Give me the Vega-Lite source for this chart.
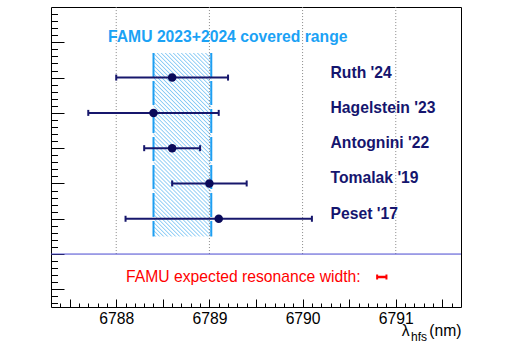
{
  "$schema": "https://vega.github.io/schema/vega-lite/v6.json",
  "width": 410,
  "height": 300,
  "autosize": {"type": "none"},
  "padding": {"left": 51, "top": 7, "right": 51, "bottom": 39},
  "background": "white",
  "config": {"view": {"stroke": "#000", "strokeWidth": 1}, "font": "Liberation Sans"},
  "datasets": {
    "meas": [
      {"name": "Ruth '24", "row": 6.5, "value": 6788.6, "lo": 6788.0, "hi": 6789.2},
      {"name": "Hagelstein '23", "row": 5.5, "value": 6788.4, "lo": 6787.7, "hi": 6789.1},
      {"name": "Antognini '22", "row": 4.5, "value": 6788.6, "lo": 6788.3, "hi": 6788.9},
      {"name": "Tomalak '19", "row": 3.5, "value": 6789.0, "lo": 6788.6, "hi": 6789.4},
      {"name": "Peset '17", "row": 2.5, "value": 6789.1, "lo": 6788.1, "hi": 6790.1}
    ],
    "band": [{"from": 6788.4, "to": 6789.02, "bottom": 2.0, "top": 7.2}],
    "edges": [{"edge": 6788.4}, {"edge": 6789.02}],
    "grid": [{"g": 6788}, {"g": 6789}, {"g": 6790}, {"g": 6791}],
    "width": [{"lo": 6790.8, "hi": 6790.9, "row": 0.85}]
  },
  "resolve": {"axis": {"x": "independent", "y": "independent"}},
  "layer": [
    {
      "data": {"name": "band"},
      "mark": {"type": "rect", "strokeWidth": 0, "fill": {"gradient": "linear", "x1": 0, "y1": 1, "x2": 0.3768, "y2": -0.1963, "stops": [
        {"offset":0.0033,"color":"#fff"},{"offset":0.0083,"color":"#86c9f5"},{"offset":0.0133,"color":"#fff"},
        {"offset":0.0200,"color":"#fff"},{"offset":0.0250,"color":"#86c9f5"},{"offset":0.0300,"color":"#fff"},
        {"offset":0.0367,"color":"#fff"},{"offset":0.0417,"color":"#86c9f5"},{"offset":0.0467,"color":"#fff"},
        {"offset":0.0533,"color":"#fff"},{"offset":0.0583,"color":"#86c9f5"},{"offset":0.0633,"color":"#fff"},
        {"offset":0.0700,"color":"#fff"},{"offset":0.0750,"color":"#86c9f5"},{"offset":0.0800,"color":"#fff"},
        {"offset":0.0867,"color":"#fff"},{"offset":0.0917,"color":"#86c9f5"},{"offset":0.0967,"color":"#fff"},
        {"offset":0.1033,"color":"#fff"},{"offset":0.1083,"color":"#86c9f5"},{"offset":0.1133,"color":"#fff"},
        {"offset":0.1200,"color":"#fff"},{"offset":0.1250,"color":"#86c9f5"},{"offset":0.1300,"color":"#fff"},
        {"offset":0.1367,"color":"#fff"},{"offset":0.1417,"color":"#86c9f5"},{"offset":0.1467,"color":"#fff"},
        {"offset":0.1533,"color":"#fff"},{"offset":0.1583,"color":"#86c9f5"},{"offset":0.1633,"color":"#fff"},
        {"offset":0.1700,"color":"#fff"},{"offset":0.1750,"color":"#86c9f5"},{"offset":0.1800,"color":"#fff"},
        {"offset":0.1867,"color":"#fff"},{"offset":0.1917,"color":"#86c9f5"},{"offset":0.1967,"color":"#fff"},
        {"offset":0.2033,"color":"#fff"},{"offset":0.2083,"color":"#86c9f5"},{"offset":0.2133,"color":"#fff"},
        {"offset":0.2200,"color":"#fff"},{"offset":0.2250,"color":"#86c9f5"},{"offset":0.2300,"color":"#fff"},
        {"offset":0.2367,"color":"#fff"},{"offset":0.2417,"color":"#86c9f5"},{"offset":0.2467,"color":"#fff"},
        {"offset":0.2533,"color":"#fff"},{"offset":0.2583,"color":"#86c9f5"},{"offset":0.2633,"color":"#fff"},
        {"offset":0.2700,"color":"#fff"},{"offset":0.2750,"color":"#86c9f5"},{"offset":0.2800,"color":"#fff"},
        {"offset":0.2867,"color":"#fff"},{"offset":0.2917,"color":"#86c9f5"},{"offset":0.2967,"color":"#fff"},
        {"offset":0.3033,"color":"#fff"},{"offset":0.3083,"color":"#86c9f5"},{"offset":0.3133,"color":"#fff"},
        {"offset":0.3200,"color":"#fff"},{"offset":0.3250,"color":"#86c9f5"},{"offset":0.3300,"color":"#fff"},
        {"offset":0.3367,"color":"#fff"},{"offset":0.3417,"color":"#86c9f5"},{"offset":0.3467,"color":"#fff"},
        {"offset":0.3533,"color":"#fff"},{"offset":0.3583,"color":"#86c9f5"},{"offset":0.3633,"color":"#fff"},
        {"offset":0.3700,"color":"#fff"},{"offset":0.3750,"color":"#86c9f5"},{"offset":0.3800,"color":"#fff"},
        {"offset":0.3867,"color":"#fff"},{"offset":0.3917,"color":"#86c9f5"},{"offset":0.3967,"color":"#fff"},
        {"offset":0.4033,"color":"#fff"},{"offset":0.4083,"color":"#86c9f5"},{"offset":0.4133,"color":"#fff"},
        {"offset":0.4200,"color":"#fff"},{"offset":0.4250,"color":"#86c9f5"},{"offset":0.4300,"color":"#fff"},
        {"offset":0.4367,"color":"#fff"},{"offset":0.4417,"color":"#86c9f5"},{"offset":0.4467,"color":"#fff"},
        {"offset":0.4533,"color":"#fff"},{"offset":0.4583,"color":"#86c9f5"},{"offset":0.4633,"color":"#fff"},
        {"offset":0.4700,"color":"#fff"},{"offset":0.4750,"color":"#86c9f5"},{"offset":0.4800,"color":"#fff"},
        {"offset":0.4867,"color":"#fff"},{"offset":0.4917,"color":"#86c9f5"},{"offset":0.4967,"color":"#fff"},
        {"offset":0.5033,"color":"#fff"},{"offset":0.5083,"color":"#86c9f5"},{"offset":0.5133,"color":"#fff"},
        {"offset":0.5200,"color":"#fff"},{"offset":0.5250,"color":"#86c9f5"},{"offset":0.5300,"color":"#fff"},
        {"offset":0.5367,"color":"#fff"},{"offset":0.5417,"color":"#86c9f5"},{"offset":0.5467,"color":"#fff"},
        {"offset":0.5533,"color":"#fff"},{"offset":0.5583,"color":"#86c9f5"},{"offset":0.5633,"color":"#fff"},
        {"offset":0.5700,"color":"#fff"},{"offset":0.5750,"color":"#86c9f5"},{"offset":0.5800,"color":"#fff"},
        {"offset":0.5867,"color":"#fff"},{"offset":0.5917,"color":"#86c9f5"},{"offset":0.5967,"color":"#fff"},
        {"offset":0.6033,"color":"#fff"},{"offset":0.6083,"color":"#86c9f5"},{"offset":0.6133,"color":"#fff"},
        {"offset":0.6200,"color":"#fff"},{"offset":0.6250,"color":"#86c9f5"},{"offset":0.6300,"color":"#fff"},
        {"offset":0.6367,"color":"#fff"},{"offset":0.6417,"color":"#86c9f5"},{"offset":0.6467,"color":"#fff"},
        {"offset":0.6533,"color":"#fff"},{"offset":0.6583,"color":"#86c9f5"},{"offset":0.6633,"color":"#fff"},
        {"offset":0.6700,"color":"#fff"},{"offset":0.6750,"color":"#86c9f5"},{"offset":0.6800,"color":"#fff"},
        {"offset":0.6867,"color":"#fff"},{"offset":0.6917,"color":"#86c9f5"},{"offset":0.6967,"color":"#fff"},
        {"offset":0.7033,"color":"#fff"},{"offset":0.7083,"color":"#86c9f5"},{"offset":0.7133,"color":"#fff"},
        {"offset":0.7200,"color":"#fff"},{"offset":0.7250,"color":"#86c9f5"},{"offset":0.7300,"color":"#fff"},
        {"offset":0.7367,"color":"#fff"},{"offset":0.7417,"color":"#86c9f5"},{"offset":0.7467,"color":"#fff"},
        {"offset":0.7533,"color":"#fff"},{"offset":0.7583,"color":"#86c9f5"},{"offset":0.7633,"color":"#fff"},
        {"offset":0.7700,"color":"#fff"},{"offset":0.7750,"color":"#86c9f5"},{"offset":0.7800,"color":"#fff"},
        {"offset":0.7867,"color":"#fff"},{"offset":0.7917,"color":"#86c9f5"},{"offset":0.7967,"color":"#fff"},
        {"offset":0.8033,"color":"#fff"},{"offset":0.8083,"color":"#86c9f5"},{"offset":0.8133,"color":"#fff"},
        {"offset":0.8200,"color":"#fff"},{"offset":0.8250,"color":"#86c9f5"},{"offset":0.8300,"color":"#fff"},
        {"offset":0.8367,"color":"#fff"},{"offset":0.8417,"color":"#86c9f5"},{"offset":0.8467,"color":"#fff"},
        {"offset":0.8533,"color":"#fff"},{"offset":0.8583,"color":"#86c9f5"},{"offset":0.8633,"color":"#fff"},
        {"offset":0.8700,"color":"#fff"},{"offset":0.8750,"color":"#86c9f5"},{"offset":0.8800,"color":"#fff"},
        {"offset":0.8867,"color":"#fff"},{"offset":0.8917,"color":"#86c9f5"},{"offset":0.8967,"color":"#fff"},
        {"offset":0.9033,"color":"#fff"},{"offset":0.9083,"color":"#86c9f5"},{"offset":0.9133,"color":"#fff"},
        {"offset":0.9200,"color":"#fff"},{"offset":0.9250,"color":"#86c9f5"},{"offset":0.9300,"color":"#fff"},
        {"offset":0.9367,"color":"#fff"},{"offset":0.9417,"color":"#86c9f5"},{"offset":0.9467,"color":"#fff"},
        {"offset":0.9533,"color":"#fff"},{"offset":0.9583,"color":"#86c9f5"},{"offset":0.9633,"color":"#fff"},
        {"offset":0.9700,"color":"#fff"},{"offset":0.9750,"color":"#86c9f5"},{"offset":0.9800,"color":"#fff"},
        {"offset":0.9867,"color":"#fff"},{"offset":0.9917,"color":"#86c9f5"},{"offset":0.9967,"color":"#fff"}
      ]}},
      "encoding": {
        "x": {"field": "from", "type": "quantitative", "scale": {"domain": [6787.3, 6791.7], "nice": false, "zero": false},
          "axis": {"orient": "bottom", "values": [6787.4,6787.5,6787.6,6787.7,6787.8,6787.9,6788,6788.1,6788.2,6788.3,6788.4,6788.5,6788.6,6788.7,6788.8,6788.9,6789,6789.1,6789.2,6789.3,6789.4,6789.5,6789.6,6789.7,6789.8,6789.9,6790,6790.1,6790.2,6790.3,6790.4,6790.5,6790.6,6790.7,6790.8,6790.9,6791,6791.1,6791.2,6791.3,6791.4,6791.5,6791.6],
            "tickSize": -4, "tickColor": "#000", "tickWidth": 1, "labels": false, "domain": false, "grid": false, "title": null}},
        "x2": {"field": "to"},
        "y": {"field": "bottom", "type": "quantitative", "scale": {"domain": [0, 8.5], "nice": false, "zero": false},
          "axis": {"orient": "left", "values": [0.1,0.3,0.7,0.9,1.1,1.3,1.7,1.9,2.1,2.3,2.7,2.9,3.1,3.3,3.7,3.9,4.1,4.3,4.7,4.9,5.1,5.3,5.7,5.9,6.1,6.3,6.7,6.9,7.1,7.3,7.7,7.9,8.1,8.3],
            "tickSize": -6.5, "tickColor": "#000", "tickWidth": 1, "labels": false, "domain": false, "grid": false, "title": null}},
        "y2": {"field": "top"}
      }
    },
    {
      "data": {"name": "grid"},
      "mark": {"type": "rule", "stroke": "#8a8a8a", "strokeWidth": 1, "strokeDash": [1, 2]},
      "encoding": {
        "x": {"field": "g", "type": "quantitative", "scale": {"domain": [6787.3, 6791.7], "nice": false, "zero": false},
          "axis": {"orient": "bottom", "values": [6788, 6789, 6790, 6791], "format": "d",
            "tickSize": -8, "tickColor": "#000", "tickWidth": 1, "domain": false, "grid": false, "title": null,
            "labelFont": "Liberation Sans", "labelFontSize": 15.7, "labelColor": "#000", "labelPadding": 12, "labelFlush": false, "labelOverlap": false}},
        "y": {"datum": 1.5, "type": "quantitative", "scale": {"domain": [0, 8.5], "nice": false, "zero": false},
          "axis": {"orient": "left", "values": [0.5,1.5,2.5,3.5,4.5,5.5,6.5,7.5], "tickSize": -13, "tickColor": "#000", "tickWidth": 1, "labels": false, "domain": false, "grid": false, "title": null}},
        "y2": {"datum": 8.5}
      }
    },
    {
      "data": {"name": "edges"},
      "mark": {"type": "rule", "stroke": "#1e9ff2", "strokeWidth": 2, "strokeDash": [24, 4]},
      "encoding": {
        "x": {"field": "edge", "type": "quantitative", "scale": {"domain": [6787.3, 6791.7], "nice": false, "zero": false},
          "axis": {"orient": "bottom", "values": [6787.5, 6788.5, 6789.5, 6790.5, 6791.5], "tickSize": -8, "tickColor": "#000", "tickWidth": 1, "labels": false, "domain": false, "grid": false, "title": null}},
        "y": {"datum": 7.2, "type": "quantitative", "scale": {"domain": [0, 8.5], "nice": false, "zero": false}, "axis": null},
        "y2": {"datum": 2.0}
      }
    },
    {
      "data": {"values": [{"level": 1.5}]},
      "mark": {"type": "rule", "stroke": "#4848d0", "strokeWidth": 1},
      "encoding": {
        "y": {"field": "level", "type": "quantitative", "scale": {"domain": [0, 8.5], "nice": false, "zero": false}, "axis": null}
      }
    },
    {
      "data": {"name": "meas"},
      "mark": {"type": "rule", "stroke": "#17176c", "strokeWidth": 2},
      "encoding": {
        "x": {"field": "lo", "type": "quantitative", "scale": {"domain": [6787.3, 6791.7], "nice": false, "zero": false}, "axis": null},
        "x2": {"field": "hi"},
        "y": {"field": "row", "type": "quantitative", "scale": {"domain": [0, 8.5], "nice": false, "zero": false}, "axis": null}
      }
    },
    {
      "data": {"name": "meas"},
      "mark": {"type": "tick", "orient": "vertical", "size": 6, "thickness": 2, "color": "#17176c", "opacity": 1},
      "encoding": {
        "x": {"field": "lo", "type": "quantitative", "scale": {"domain": [6787.3, 6791.7], "nice": false, "zero": false}, "axis": null},
        "y": {"field": "row", "type": "quantitative", "scale": {"domain": [0, 8.5], "nice": false, "zero": false}, "axis": null}
      }
    },
    {
      "data": {"name": "meas"},
      "mark": {"type": "tick", "orient": "vertical", "size": 6, "thickness": 2, "color": "#17176c", "opacity": 1},
      "encoding": {
        "x": {"field": "hi", "type": "quantitative", "scale": {"domain": [6787.3, 6791.7], "nice": false, "zero": false}, "axis": null},
        "y": {"field": "row", "type": "quantitative", "scale": {"domain": [0, 8.5], "nice": false, "zero": false}, "axis": null}
      }
    },
    {
      "data": {"name": "meas"},
      "mark": {"type": "circle", "size": 72, "color": "#0a0a5a", "opacity": 1},
      "encoding": {
        "x": {"field": "value", "type": "quantitative", "scale": {"domain": [6787.3, 6791.7], "nice": false, "zero": false}, "axis": null},
        "y": {"field": "row", "type": "quantitative", "scale": {"domain": [0, 8.5], "nice": false, "zero": false}, "axis": null}
      }
    },
    {
      "data": {"name": "meas"},
      "mark": {"type": "text", "align": "left", "baseline": "alphabetic", "font": "Liberation Sans", "fontWeight": "bold", "fontSize": 15.7, "color": "#15156e"},
      "encoding": {
        "x": {"datum": 6790.3, "type": "quantitative", "scale": {"domain": [6787.3, 6791.7], "nice": false, "zero": false}, "axis": null},
        "y": {"field": "row", "type": "quantitative", "scale": {"domain": [0, 8.5], "nice": false, "zero": false}, "axis": null},
        "text": {"field": "name"}
      }
    },
    {
      "data": {"values": [{"label": "FAMU 2023+2024 covered range", "at": 6789.197, "row": 7.5}]},
      "mark": {"type": "text", "align": "center", "baseline": "alphabetic", "font": "Liberation Sans", "fontWeight": "bold", "fontSize": 15.7, "color": "#1ba2f5"},
      "encoding": {
        "x": {"field": "at", "type": "quantitative", "scale": {"domain": [6787.3, 6791.7], "nice": false, "zero": false}, "axis": null},
        "y": {"field": "row", "type": "quantitative", "scale": {"domain": [0, 8.5], "nice": false, "zero": false}, "axis": null},
        "text": {"field": "label"}
      }
    },
    {
      "data": {"values": [{"label": "FAMU expected resonance width:", "at": 6788.106, "row": 0.717}]},
      "mark": {"type": "text", "align": "left", "baseline": "alphabetic", "font": "Liberation Sans", "fontSize": 15.7, "color": "#ff0000"},
      "encoding": {
        "x": {"field": "at", "type": "quantitative", "scale": {"domain": [6787.3, 6791.7], "nice": false, "zero": false}, "axis": null},
        "y": {"field": "row", "type": "quantitative", "scale": {"domain": [0, 8.5], "nice": false, "zero": false}, "axis": null},
        "text": {"field": "label"}
      }
    },
    {
      "data": {"name": "width"},
      "mark": {"type": "rule", "stroke": "#ff0000", "strokeWidth": 2.5},
      "encoding": {
        "x": {"field": "lo", "type": "quantitative", "scale": {"domain": [6787.3, 6791.7], "nice": false, "zero": false}, "axis": null},
        "x2": {"field": "hi"},
        "y": {"field": "row", "type": "quantitative", "scale": {"domain": [0, 8.5], "nice": false, "zero": false}, "axis": null}
      }
    },
    {
      "data": {"name": "width"},
      "mark": {"type": "tick", "orient": "vertical", "size": 5, "thickness": 2, "color": "#ff0000", "opacity": 1},
      "encoding": {
        "x": {"field": "lo", "type": "quantitative", "scale": {"domain": [6787.3, 6791.7], "nice": false, "zero": false}, "axis": null},
        "y": {"field": "row", "type": "quantitative", "scale": {"domain": [0, 8.5], "nice": false, "zero": false}, "axis": null}
      }
    },
    {
      "data": {"name": "width"},
      "mark": {"type": "tick", "orient": "vertical", "size": 5, "thickness": 2, "color": "#ff0000", "opacity": 1},
      "encoding": {
        "x": {"field": "hi", "type": "quantitative", "scale": {"domain": [6787.3, 6791.7], "nice": false, "zero": false}, "axis": null},
        "y": {"field": "row", "type": "quantitative", "scale": {"domain": [0, 8.5], "nice": false, "zero": false}, "axis": null}
      }
    },
    {
      "data": {"values": [{"label": "λ", "at": 6791.064, "row": -0.808}]},
      "mark": {"type": "text", "align": "left", "baseline": "alphabetic", "font": "Liberation Sans", "fontSize": 15.7, "color": "#000"},
      "encoding": {
        "x": {"field": "at", "type": "quantitative", "scale": {"domain": [6787.3, 6791.7], "nice": false, "zero": false}, "axis": null},
        "y": {"field": "row", "type": "quantitative", "scale": {"domain": [0, 8.5], "nice": false, "zero": false}, "axis": null},
        "text": {"field": "label"}
      }
    },
    {
      "data": {"values": [{"label": "hfs", "at": 6791.164, "row": -0.95}]},
      "mark": {"type": "text", "align": "left", "baseline": "alphabetic", "font": "Liberation Sans", "fontSize": 12, "color": "#000"},
      "encoding": {
        "x": {"field": "at", "type": "quantitative", "scale": {"domain": [6787.3, 6791.7], "nice": false, "zero": false}, "axis": null},
        "y": {"field": "row", "type": "quantitative", "scale": {"domain": [0, 8.5], "nice": false, "zero": false}, "axis": null},
        "text": {"field": "label"}
      }
    },
    {
      "data": {"values": [{"label": "(nm)", "at": 6791.705, "row": -0.808}]},
      "mark": {"type": "text", "align": "right", "baseline": "alphabetic", "font": "Liberation Sans", "fontSize": 15.7, "color": "#000"},
      "encoding": {
        "x": {"field": "at", "type": "quantitative", "scale": {"domain": [6787.3, 6791.7], "nice": false, "zero": false}, "axis": null},
        "y": {"field": "row", "type": "quantitative", "scale": {"domain": [0, 8.5], "nice": false, "zero": false}, "axis": null},
        "text": {"field": "label"}
      }
    }
  ]
}
